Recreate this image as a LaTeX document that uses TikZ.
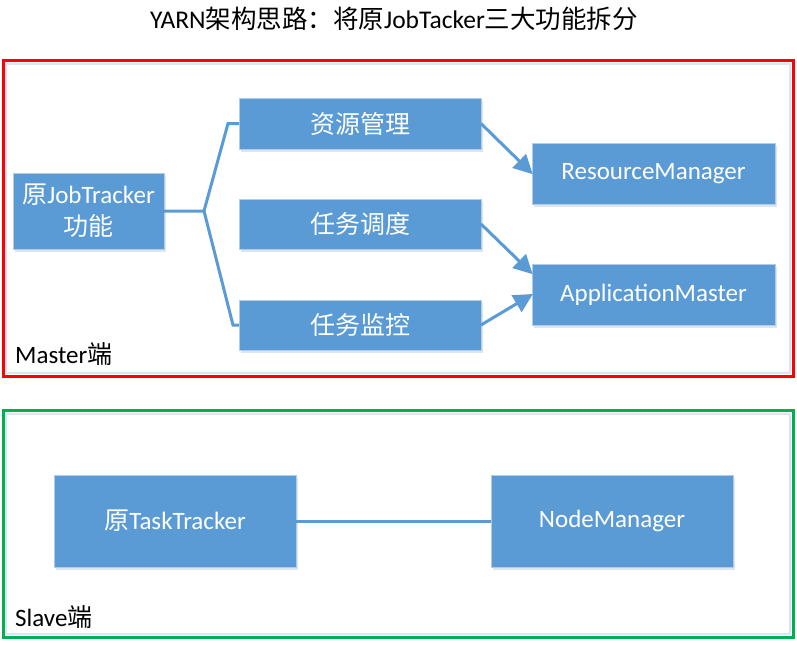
\documentclass[tikz,border=0pt]{standalone}
\usepackage{fontspec}
\setmainfont{Carlito}
\newfontfamily\cjk{Noto Sans CJK SC}
\usetikzlibrary{arrows.meta,calc}
\definecolor{boxblue}{HTML}{5B9BD5}
\definecolor{boxedge}{HTML}{B4CBE6}
\definecolor{shadowc}{HTML}{DCE6F2}
\definecolor{redline}{HTML}{FF0000}
\definecolor{greenline}{HTML}{00B050}
\tikzset{
  bluebox/.style={fill=boxblue, draw=boxedge, line width=0.6pt, text=white,
    inner sep=0pt, outer sep=0pt, align=center,
    font=\fontsize{25}{32}\selectfont,
    preaction={fill=shadowc, transform canvas={xshift=1.5pt,yshift=-3pt}}},
  frame/.style={line width=3pt, fill=none},
  conn/.style={draw=boxblue, line width=3pt},
  arr/.style={conn, -{Triangle[length=19pt,width=19pt]}, shorten >=-1pt},
  lbl/.style={font=\fontsize{25}{28}\selectfont, inner sep=0pt, anchor=base west},
}
\begin{document}
\begin{tikzpicture}[x=1pt,y=-1pt]
\useasboundingbox (0,0) rectangle (797,646);
% title
\node[font=\fontsize{25.5}{28}\selectfont, inner sep=0pt] (title) at (394,19)
  {YARN{\cjk 架构思路：将原}JobTacker{\cjk 三大功能拆分}};
% frames
\draw[shadowc, line width=2pt] (6,64) rectangle (790,373);
\draw[frame, redline] (3,60) rectangle (793,376);
\draw[shadowc, line width=2pt] (6,414) rectangle (790,634);
\draw[frame, greenline] (3,410) rectangle (793,637);
% master nodes
\node[bluebox, minimum width=151, minimum height=76] (jt) at (88.5,211)
  {{\cjk 原}JobTracker\\{\cjk 功能}};
\node[bluebox, minimum width=242, minimum height=51] (r1) at (360,123.5) {\cjk 资源管理};
\node[bluebox, minimum width=242, minimum height=50] (r2) at (360,224) {\cjk 任务调度};
\node[bluebox, minimum width=242, minimum height=50] (r3) at (360,325) {\cjk 任务监控};
\node[bluebox, minimum width=243, minimum height=61] (rm) at (653.5,173.5) {ResourceManager};
\node[bluebox, minimum width=243, minimum height=61] (am) at (653.5,294.5) {ApplicationMaster};
\node[lbl] (mlabel) at (15,363) {Master{\cjk 端}};
% slave nodes
\node[bluebox, minimum width=242, minimum height=92] (tt) at (175,521) {{\cjk 原}TaskTracker};
\node[bluebox, minimum width=242, minimum height=92] (nm) at (612,521) {NodeManager};
\node[lbl] (slabel) at (15,626) {Slave{\cjk 端}};
% bracket
\coordinate (fork) at (204,211);
\coordinate (b1) at (228,123.5);
\coordinate (b3) at (233,325);
\draw[conn, line join=miter] (jt.east) -- (fork) -- (b1) -- (r1.west);
\draw[conn, line join=miter] (fork) -- (b3) -- (r3.west);
% arrows
\coordinate (amtop) at ($(am.west)+(0,-21)$);
\draw[arr] (r1.east) -- (rm.west);
\draw[arr] (r2.east) -- (amtop);
\draw[arr] (r3.east) -- (am.west);
% slave connector
\draw[conn] (tt.east) -- (nm.west);
\end{tikzpicture}
\end{document}
